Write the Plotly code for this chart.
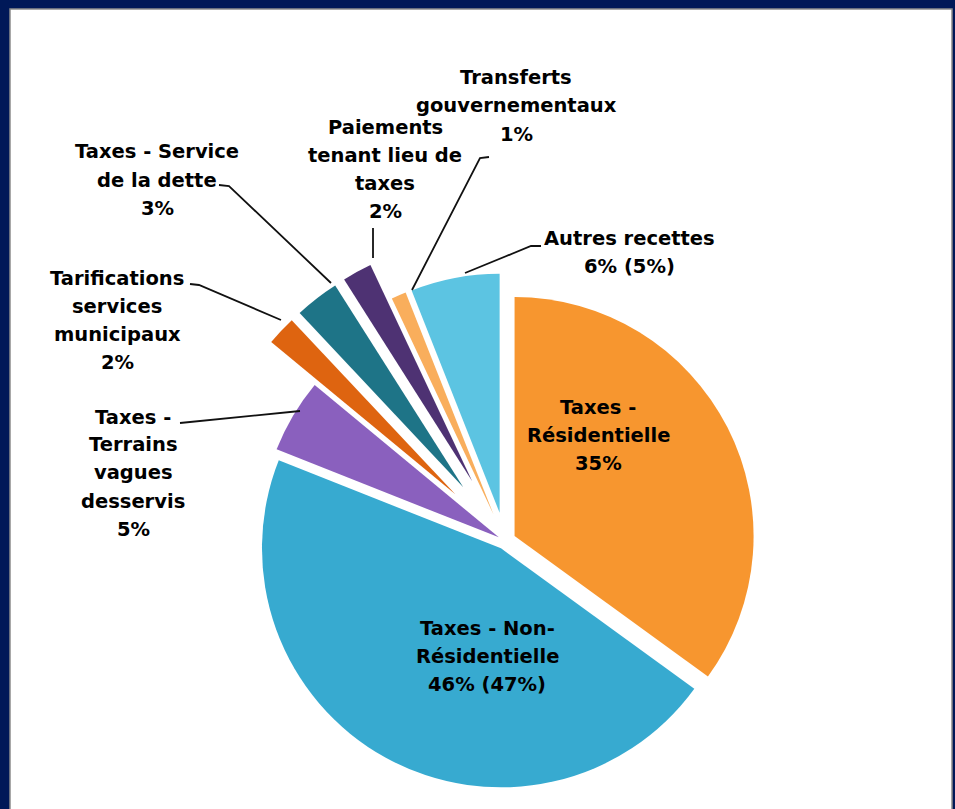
import math
import plotly.graph_objects as go

W, H = 955, 809

# ---- data ----
categories = [
    "Taxes - Résidentielle",
    "Taxes - Non-Résidentielle",
    "Taxes - Terrains vagues desservis",
    "Tarifications services municipaux",
    "Taxes - Service de la dette",
    "Paiements tenant lieu de taxes",
    "Transferts gouvernementaux",
    "Autres recettes",
]
values = [35, 46, 5, 2, 3, 2, 1, 6]
prior_values = [None, 47, None, None, None, None, None, 5]
label_lines = [
    ["Taxes -", "Résidentielle"],
    ["Taxes - Non-", "Résidentielle"],
    ["Taxes -", "Terrains", "vagues", "desservis"],
    ["Tarifications", "services", "municipaux"],
    ["Taxes - Service", "de la dette"],
    ["Paiements", "tenant lieu de", "taxes"],
    ["Transferts", "gouvernementaux"],
    ["Autres recettes"],
]

# ---- style ----
colors = ["#F7962F", "#37AAD0", "#8A60BE", "#DE6410", "#1E7487",
          "#4E3273", "#F9AE5C", "#5CC4E2"]
pulls = [0.045, 0.035, 0.03, 0.285, 0.285, 0.285, 0.12, 0.12]
CX, CY, R = 505, 541, 239
label_pos = [(598, 407), (487, 628), (133, 417), (117, 278), (157, 152),
             (385, 128), (516, 78), (629, 239)]
LINE_H = 28
leaders = [
    [(180, 423), (300, 411)],
    [(190, 284), (199, 285), (281, 320)],
    [(219, 185), (229, 186), (331, 283)],
    [(373, 228), (373, 258)],
    [(489, 157), (480, 158), (412, 290)],
    [(541, 246), (531, 246), (465, 273)],
]


def px(x):
    return x / W


def py(y):
    return 1 - y / H


fig = go.Figure()
total = sum(values)
cum = 0
for i, v in enumerate(values):
    mid = (cum + v / 2) / total * 360
    cum += v
    d = pulls[i] * R
    sx = CX + d * math.sin(math.radians(mid))
    sy = CY - d * math.cos(math.radians(mid))
    slice_colors = [colors[j] if j == i else "rgba(0,0,0,0)" for j in range(len(values))]
    fig.add_trace(go.Pie(
        labels=categories, values=values, sort=False, direction="clockwise",
        rotation=0, textinfo="none", hoverinfo="label+percent",
        marker=dict(colors=slice_colors, line=dict(width=0)),
        domain=dict(x=[px(sx - R), px(sx + R)], y=[py(sy + R), py(sy - R)]),
        showlegend=False,
    ))

annotations = []
for i, lines in enumerate(label_lines):
    pct = f"{values[i]}%"
    if prior_values[i] is not None:
        pct += f" ({prior_values[i]}%)"
    all_lines = lines + [pct]
    lx, ly = label_pos[i]
    for j, t in enumerate(all_lines):
        annotations.append(dict(
            x=px(lx), y=py(ly + j * LINE_H), xref="paper", yref="paper",
            text=t, showarrow=False, xanchor="center", yanchor="middle",
            font=dict(family="DejaVu Sans", size=19.5, color="#000000", weight="bold"),
        ))

shapes = [dict(type="rect", xref="paper", yref="paper", layer="below",
               x0=px(10), x1=px(952), y0=py(812), y1=py(9),
               fillcolor="#FFFFFF", line=dict(color="#8C8C8C", width=1.5))]
for pts in leaders:
    path = "M " + " L ".join(f"{px(x):.5f},{py(y):.5f}" for x, y in pts)
    shapes.append(dict(type="path", xref="paper", yref="paper", path=path,
                       line=dict(color="#111111", width=1.8)))

fig.update_layout(
    width=W, height=H, margin=dict(l=0, r=0, t=0, b=0),
    paper_bgcolor="#001858", plot_bgcolor="#FFFFFF",
    annotations=annotations, shapes=shapes,
)
fig.write_html(
    "out.html",
    config={"displayModeBar": False},
    post_script="document.body.style.margin='0';document.body.style.padding='0';"
                "document.body.style.background='#001858';"
                "document.documentElement.style.background='#001858';",
)
